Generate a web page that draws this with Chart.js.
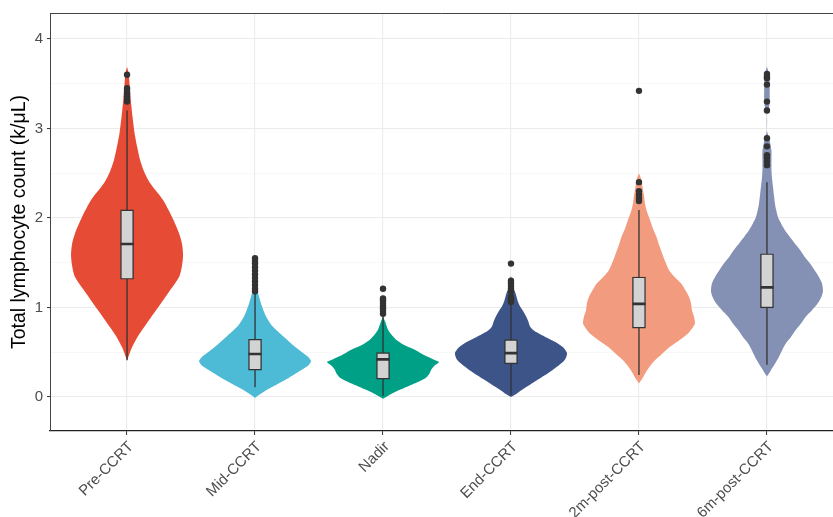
<!DOCTYPE html>
<html><head><meta charset="utf-8">
<script src="https://cdn.jsdelivr.net/npm/chart.js@4/dist/chart.umd.min.js"></script>
<style>html,body{margin:0;padding:0;background:#fff}#wrap{width:833px;height:517px;position:relative}</style>
</head><body><div id="wrap"><canvas id="c" width="833" height="517"></canvas></div>
<script>
const categories = ['Pre-CCRT','Mid-CCRT','Nadir','End-CCRT','2m-post-CCRT','6m-post-CCRT'];
const fillColors = ['#E64B35','#4DBBD5','#00A087','#3C5488','#F39B7F','#8491B4'];
const q1 = [1.315,0.30,0.20,0.37,0.77,0.995];
const median = [1.71,0.48,0.42,0.49,1.04,1.225];
const q3 = [2.09,0.645,0.495,0.64,1.34,1.60];
const whiskerLow = [0.41,0.11,0.01,0.02,0.245,0.36];
const whiskerHigh = [3.20,1.16,0.90,1.05,2.09,2.40];
const outliersPre = [3.30,3.33,3.36,3.39,3.42,3.45,3.60];
const outliersMid = [1.18,1.21,1.25,1.29,1.33,1.37,1.41,1.45,1.49,1.52,1.55];
const outliersNadir = [0.93,0.96,0.99,1.02,1.05,1.08,1.10,1.21];
const outliersEnd = [1.06,1.08,1.10,1.12,1.18,1.21,1.24,1.27,1.30,1.49];
const outliers2m = [2.19,2.22,2.26,2.30,2.40,3.42];
const outliers6m = [2.59,2.63,2.67,2.70,2.80,2.89,3.20,3.30,3.49,3.56,3.58,3.61];
// violin density profiles: [value, relative density]
const densityPre = [[0.41,0],[0.47,2],[0.53,4],[0.60,7],[0.69,11.5],[0.78,17],[0.97,29],[1.16,41],[1.34,52],[1.47,55],[1.59,56],[1.71,55],[1.83,52],[2.01,45],[2.20,36],[2.39,23],[2.52,17],[2.65,13],[2.80,10],[2.95,7.5],[3.13,5.5],[3.32,3.7],[3.50,2.5],[3.62,1.5],[3.69,0]];
const densityMid = [[-0.01,0],[0.03,5],[0.08,12],[0.19,30],[0.30,46],[0.35,53],[0.40,56],[0.45,53],[0.50,47],[0.56,40],[0.67,29],[0.79,17.5],[0.90,11],[1.01,7],[1.12,4],[1.20,2],[1.25,0]];
const densityNadir = [[-0.02,0],[0.02,6],[0.06,13],[0.13,27],[0.21,42],[0.26,46],[0.31,48],[0.35,51],[0.39,55.5],[0.42,50],[0.46,42],[0.525,32],[0.58,21],[0.64,13],[0.70,8],[0.75,5],[0.83,2.5],[0.90,0]];
const densityEnd = [[0.0,0],[0.04,6],[0.08,11],[0.19,26],[0.30,41],[0.41,53],[0.49,55.5],[0.56,51],[0.62,43],[0.67,34],[0.70,29],[0.74,23],[0.785,19],[0.85,17],[0.90,15],[0.96,12],[1.01,9],[1.06,7],[1.12,5.5],[1.16,4.5],[1.20,3],[1.28,2],[1.35,0]];
const density2m = [[0.15,0],[0.20,3],[0.26,6],[0.33,10],[0.41,16],[0.48,23],[0.56,31],[0.64,41],[0.71,49],[0.78,54],[0.82,56],[0.90,55],[0.97,53],[1.05,52],[1.12,50],[1.20,46],[1.27,42],[1.35,35],[1.42,30],[1.52,26],[1.61,23],[1.70,20],[1.79,17.5],[1.88,14],[1.98,11],[2.07,8],[2.16,6],[2.25,5],[2.35,3.5],[2.44,2],[2.50,0]];
const density6m = [[0.23,0],[0.30,4],[0.37,8],[0.45,12],[0.52,15],[0.60,19],[0.67,24],[0.75,29],[0.82,34],[0.90,39],[0.97,45],[1.05,51],[1.12,54.5],[1.18,56],[1.27,55],[1.35,51.5],[1.42,47.5],[1.50,42.5],[1.57,37.5],[1.65,32.5],[1.72,27.5],[1.80,22],[1.87,17.5],[1.94,14],[2.01,11],[2.10,9],[2.16,8],[2.25,7],[2.35,6],[2.45,5],[2.54,4.5],[2.65,4.5],[2.75,4.5],[2.85,3],[2.93,1],[2.98,0],[3.15,0],[3.20,1.5],[3.30,2.7],[3.50,2.7],[3.60,2.2],[3.69,0]];
const yTicks = [0,0.5,1,1.5,2,2.5,3,3.5,4];

const densities = [densityPre,densityMid,densityNadir,densityEnd,density2m,density6m];
const outlierSets = [outliersPre,outliersMid,outliersNadir,outliersEnd,outliers2m,outliers6m];
const HALF = 0.4375;   // max violin half-width, category units
const BOXHALF = 0.051; // box half-width, category units
const FONT = "'Liberation Sans', Arial, Helvetica, sans-serif";

const datasets = [];
densities.forEach((prof, i) => {
  const maxD = Math.max(...prof.map(p => p[1]));
  const c = i + 1;
  const right = prof.map(([v, d]) => ({x: c + d / maxD * HALF, y: v}));
  const left = prof.slice().reverse().map(([v, d]) => ({x: c - d / maxD * HALF, y: v}));
  datasets.push({type: 'line', data: right.concat(left), fill: 'shape', backgroundColor: fillColors[i],
    borderColor: 'rgba(0,0,0,0)', borderWidth: 0, pointRadius: 0, tension: 0.25, order: 10});
});
const whiskerData = [];
categories.forEach((c, i) => { whiskerData.push({x: i+1, y: whiskerLow[i]}, {x: i+1, y: whiskerHigh[i]}, {x: i+1, y: null}); });
datasets.push({type: 'line', data: whiskerData, borderColor: '#333333', borderWidth: 1.3, pointRadius: 0, spanGaps: false, fill: false, order: 8});
datasets.push({type: 'bar', data: categories.map((c, i) => ({x: i+1, y: [q1[i], q3[i]]})), backgroundColor: '#D3D3D3',
  borderColor: '#333333', borderWidth: 1.4, borderSkipped: false, barThickness: 13, order: 6});
const medData = [];
categories.forEach((c, i) => { medData.push({x: i+1-BOXHALF, y: median[i]}, {x: i+1+BOXHALF, y: median[i]}, {x: i+1+BOXHALF, y: null}); });
datasets.push({type: 'line', data: medData, borderColor: '#333333', borderWidth: 2.6, borderCapStyle: 'butt', pointRadius: 0, spanGaps: false, fill: false, order: 4});
const outData = [];
outlierSets.forEach((arr, i) => arr.forEach(v => outData.push({x: i+1, y: v})));
datasets.push({type: 'scatter', data: outData, pointRadius: 3.2, pointBackgroundColor: '#333333', pointBorderWidth: 0, showLine: false, order: 2});

const frame = {id: 'frame', afterDatasetsDraw(chart) {
  const {ctx, chartArea: a} = chart;
  ctx.save(); ctx.strokeStyle = '#444444'; ctx.lineWidth = 1;
  ctx.beginPath(); ctx.moveTo(a.left, a.top + 0.5); ctx.lineTo(a.right, a.top + 0.5); ctx.stroke();
  ctx.restore();
}};

new Chart(document.getElementById('c'), {
  type: 'scatter',
  data: {datasets},
  plugins: [frame],
  options: {
    responsive: false, animation: false, devicePixelRatio: 1,
    layout: {autoPadding: false, padding: {top: 13, right: 0, left: 0, bottom: 0}},
    plugins: {legend: {display: false}, tooltip: {enabled: false}},
    scales: {
      x: {type: 'linear', min: 0.398, max: 6.516, offset: false,
        afterBuildTicks: s => { s.ticks = categories.map((c, i) => ({value: i + 1})); },
        afterFit: s => { s.height = 86; s.paddingLeft = 0; s.paddingRight = 0; },
        ticks: {callback: v => categories[v - 1] || '', minRotation: 45, maxRotation: 45, autoSkip: false,
          color: '#4D4D4D', font: {family: FONT, size: 15}, padding: 3, labelOffset: 4},
        grid: {offset: false, color: '#EBEBEB', lineWidth: 1.1, tickLength: 4, tickColor: '#333333', tickWidth: 1},
        border: {display: true, color: '#222222', width: 1.2}
      },
      y: {type: 'linear', min: -0.38, max: 4.29,
        afterBuildTicks: s => { s.ticks = yTicks.map(v => ({value: v})); },
        afterFit: s => { s.width = 50; s.paddingTop = 0; s.paddingBottom = 0; },
        ticks: {callback: v => Number.isInteger(v) ? String(v) : '', color: '#4D4D4D', font: {family: FONT, size: 15}, padding: 4},
        grid: {color: c => Number.isInteger(c.tick.value) ? '#EBEBEB' : '#F4F4F4',
          lineWidth: c => Number.isInteger(c.tick.value) ? 1.1 : 0.6,
          tickColor: c => Number.isInteger(c.tick.value) ? '#333333' : 'rgba(0,0,0,0)', tickLength: 3, tickWidth: 1},
        border: {display: true, color: '#444444', width: 1},
        title: {display: true, text: 'Total lymphocyte count (k/μL)', color: '#000000', font: {family: FONT, size: 19.5}, padding: {top: 8, bottom: 0}}
      }
    }
  }
});
</script></body></html>
